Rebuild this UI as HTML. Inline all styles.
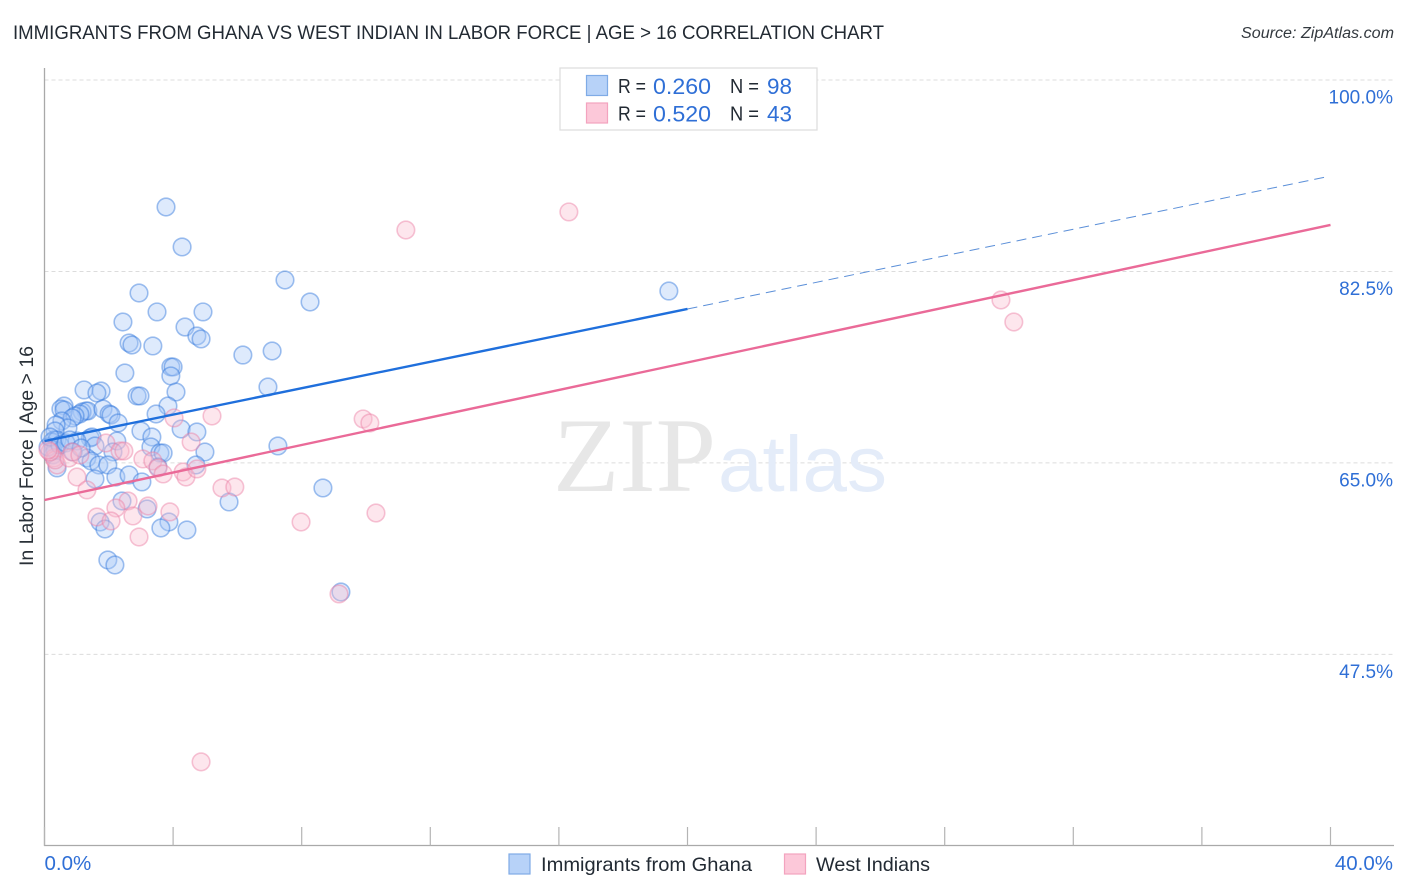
<!DOCTYPE html>
<html lang="en">
<head>
<meta charset="utf-8">
<title>Immigrants from Ghana vs West Indian in Labor Force | Age > 16 Correlation Chart</title>
<style>
html,body{margin:0;padding:0;background:#fff;width:1406px;height:892px;overflow:hidden}
svg{display:block}
text{font-family:"Liberation Sans",sans-serif}
</style>
</head>
<body>
<svg id="chart" width="1406" height="892" viewBox="0 0 1406 892" xmlns="http://www.w3.org/2000/svg">
  <text x="13" y="39" font-size="19" fill="#222a33" textLength="871" lengthAdjust="spacingAndGlyphs">IMMIGRANTS FROM GHANA VS WEST INDIAN IN LABOR FORCE | AGE &gt; 16 CORRELATION CHART</text>
  <text x="1241" y="38" font-size="15.5" font-style="italic" fill="#33393f" textLength="153" lengthAdjust="spacingAndGlyphs">Source: ZipAtlas.com</text>
  <g id="grid"></g>
  <g>
    <text x="553" y="491" font-size="106" fill="#e7e7e7" textLength="163" lengthAdjust="spacingAndGlyphs" style="font-family:'Liberation Serif',serif">ZIP</text>
    <text x="718" y="491" font-size="79" fill="#e4ecf9" textLength="169" lengthAdjust="spacingAndGlyphs">atlas</text>
  </g>
  <g id="axes"></g>
  <g id="blue-points"></g>
  <g id="pink-points"></g>
  <g id="trends"></g>
  <g id="tick-labels"></g>
  <text transform="translate(33,456) rotate(-90)" font-size="19.5" fill="#2a3138" text-anchor="middle" textLength="220" lengthAdjust="spacingAndGlyphs">In Labor Force | Age &gt; 16</text>
  <g>
    <rect x="560" y="68" width="257" height="62" fill="#fff" stroke="#dcdcdc" stroke-width="1.2"/>
    <rect x="586.5" y="75.5" width="21" height="20" fill="#b7d2f8" stroke="#7fabe6" stroke-width="1.2"/>
    <rect x="586.5" y="103" width="21" height="20" fill="#fcc8d9" stroke="#f3a3bf" stroke-width="1.2"/>
    <text x="618" y="93" font-size="20" fill="#222a33" textLength="28" lengthAdjust="spacingAndGlyphs">R =</text>
    <text x="653" y="94" font-size="22" fill="#2f6fd6" textLength="58" lengthAdjust="spacingAndGlyphs">0.260</text>
    <text x="730" y="93" font-size="20" fill="#222a33" textLength="29" lengthAdjust="spacingAndGlyphs">N =</text>
    <text x="767" y="94" font-size="22" fill="#2f6fd6" textLength="25" lengthAdjust="spacingAndGlyphs">98</text>
    <text x="618" y="120.500" font-size="20" fill="#222a33" textLength="28" lengthAdjust="spacingAndGlyphs">R =</text>
    <text x="653" y="121.500" font-size="22" fill="#2f6fd6" textLength="58" lengthAdjust="spacingAndGlyphs">0.520</text>
    <text x="730" y="120.500" font-size="20" fill="#222a33" textLength="29" lengthAdjust="spacingAndGlyphs">N =</text>
    <text x="767" y="121.500" font-size="22" fill="#2f6fd6" textLength="25" lengthAdjust="spacingAndGlyphs">43</text>
  </g>
  <g>
    <rect x="509" y="854" width="21" height="20" fill="#b7d2f8" stroke="#7fabe6" stroke-width="1.2"/>
    <text x="541" y="871" font-size="19.500" fill="#222a33" textLength="211" lengthAdjust="spacingAndGlyphs">Immigrants from Ghana</text>
    <rect x="784.500" y="854" width="21" height="20" fill="#fcc8d9" stroke="#f3a3bf" stroke-width="1.2"/>
    <text x="816" y="871" font-size="19.500" fill="#222a33" textLength="114" lengthAdjust="spacingAndGlyphs">West Indians</text>
  </g>
</svg>
<script>
const blueX = [3.78,4.28,7.48,2.94,8.26,19.42,3.50,4.93,2.44,4.37,4.74,4.87,2.63,2.72,3.37,6.17,7.08,3.93,4.00,3.93,2.50,6.95,1.23,1.76,1.63,2.88,2.97,4.09,0.61,0.51,0.61,3.84,1.29,1.17,1.35,1.10,1.82,2.01,2.07,0.95,0.86,3.47,0.54,2.29,0.73,0.36,0.33,4.25,4.74,3.00,3.34,1.42,1.48,1.01,2.25,0.30,0.23,0.39,1.57,7.26,3.31,3.59,3.69,4.99,2.13,0.26,0.26,0.33,1.32,1.45,1.69,1.97,4.71,0.39,2.22,2.63,3.03,1.57,3.53,8.66,5.74,2.41,3.19,1.73,3.87,3.62,4.43,1.88,1.97,2.19,9.22,0.11,0.17,0.48,0.67,0.79,0.89,1.14];
const blueY = [88.39,84.74,81.72,80.53,79.71,80.71,78.80,78.80,77.88,77.42,76.60,76.33,75.96,75.78,75.69,74.86,75.23,73.77,73.77,72.95,73.22,71.94,71.67,71.57,71.39,71.12,71.12,71.48,70.20,69.93,69.84,70.20,69.75,69.66,69.75,69.47,69.93,69.47,69.38,69.29,69.11,69.47,68.83,68.65,68.19,68.47,67.92,68.10,67.83,67.92,67.37,67.28,67.37,67.00,67.00,67.10,66.91,67.10,66.55,66.55,66.46,65.91,65.91,66.00,66.00,66.18,65.72,66.18,65.45,65.18,64.81,64.81,64.81,64.54,63.71,63.90,63.26,63.53,64.63,62.71,61.43,61.52,60.79,59.60,59.60,59.05,58.87,58.96,56.13,55.67,53.20,66.46,67.37,66.64,66.82,67.10,66.00,66.36];
const pinkX = [16.31,11.24,29.75,30.15,9.91,10.12,4.03,5.21,1.91,4.56,2.35,2.47,3.06,3.37,3.53,3.69,4.31,4.40,4.74,5.52,5.92,1.01,1.32,2.60,2.22,3.22,1.63,2.07,2.75,3.90,7.98,10.31,2.94,9.16,4.87,0.30,0.39,0.33,0.76,0.86,1.10,0.17,0.11];
const pinkY = [87.94,86.29,79.89,77.88,69.02,68.65,69.11,69.29,66.82,66.91,66.09,66.09,65.36,65.18,64.54,63.99,64.17,63.71,64.45,62.71,62.80,63.71,62.53,61.52,60.88,61.06,60.06,59.69,60.15,60.52,59.60,60.42,58.23,53.02,37.67,65.45,64.81,65.27,65.45,66.00,65.72,66.00,66.18];
const blueTrendSolidX = [0, 20];
const blueTrendSolidY = [67.0, 79.07];
const blueTrendDashX = [20, 39.85];
const blueTrendDashY = [79.07, 91.13];
const pinkTrendX = [0, 40];
const pinkTrendY = [61.61, 86.75];
const yTicks = [100, 82.5, 65, 47.5];
const yTickLabels = ["100.0%", "82.5%", "65.0%", "47.5%"];
const xTicks = [0, 4, 8, 12, 16, 20, 24, 28, 32, 36, 40];
const xEdgeTicks = [0, 40];
const xEdgeLabels = ["0.0%", "40.0%"];

const NS = 'http://www.w3.org/2000/svg';
const xScale = v => 44.5 + v * 32.15;
const yScale = v => 80 + (100 - v) * 10.94;
const make = (parent, tag, attrs) => {
  const el = document.createElementNS(NS, tag);
  for (const k in attrs) el.setAttribute(k, attrs[k]);
  parent.appendChild(el);
  return el;
};

const grid = document.getElementById('grid');
yTicks.forEach(v => {
  const l = make(grid, 'line', {x1: 44.5, x2: 1394, y1: yScale(v), y2: yScale(v), stroke: '#dcdcdc', 'stroke-width': 1, 'stroke-dasharray': '4 3'});
  
  
});

const axes = document.getElementById('axes');
const yAxisLine = make(axes, 'line', {x1: 44.5, x2: 44.5, y1: 68, y2: 846, stroke: '#a9a9a9', 'stroke-width': 1.3});


const xAxisLine = make(axes, 'line', {x1: 44, x2: 1394, y1: 845.5, y2: 845.5, stroke: '#a9a9a9', 'stroke-width': 1.3});


xTicks.forEach(v => {
  const t = make(axes, 'line', {x1: xScale(v), x2: xScale(v), y1: 827, y2: 845.5, stroke: '#b4b4b4', 'stroke-width': 1.2});
  
  
});

const drawPoints = (groupId, xs, ys, fill, stroke) => {
  const g = document.getElementById(groupId);
  xs.forEach((x, i) => {
    const c = make(g, 'circle', {cx: xScale(x), cy: yScale(ys[i]), r: 8.8, fill: fill, 'fill-opacity': 0.38, stroke: stroke, 'stroke-opacity': 0.45, 'stroke-width': 1.6});
    
    
  });
};
drawPoints('blue-points', blueX, blueY, '#a8c8f7', '#2f76dc');
drawPoints('pink-points', pinkX, pinkY, '#fbbcd0', '#ec7fa4');

const trends = document.getElementById('trends');
const trendDash = make(trends, 'line', {x1: xScale(blueTrendDashX[0]), y1: yScale(blueTrendDashY[0]), x2: xScale(blueTrendDashX[1]), y2: yScale(blueTrendDashY[1]), stroke: '#5b8fd8', 'stroke-width': 1, 'stroke-dasharray': '10 6'});


const trendBlue = make(trends, 'line', {x1: xScale(blueTrendSolidX[0]), y1: yScale(blueTrendSolidY[0]), x2: xScale(blueTrendSolidX[1]), y2: yScale(blueTrendSolidY[1]), stroke: '#1f6fdc', 'stroke-width': 2.4});


const trendPink = make(trends, 'line', {x1: xScale(pinkTrendX[0]), y1: yScale(pinkTrendY[0]), x2: xScale(pinkTrendX[1]), y2: yScale(pinkTrendY[1]), stroke: '#ea6a98', 'stroke-width': 2.4});



const labels = document.getElementById('tick-labels');
yTicks.forEach((v, i) => {
  const t = make(labels, 'text', {x: 1393, y: yScale(v) + 23.5, 'font-size': 19, fill: '#2f6fd6', 'text-anchor': 'end'});
  t.textContent = yTickLabels[i];
  
  
});
xEdgeTicks.forEach((v, i) => {
  const t = make(labels, 'text', {x: i === 0 ? xScale(v) : 1393, y: 870, 'font-size': 20.5, fill: '#2f6fd6', 'text-anchor': i === 0 ? 'start' : 'end'});
  t.textContent = xEdgeLabels[i];
  
  
});
</script>
</body>
</html>
